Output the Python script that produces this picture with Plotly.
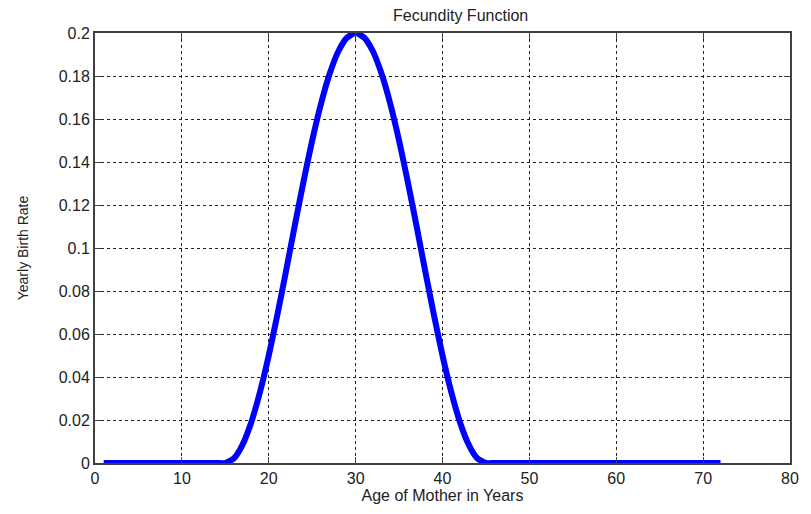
import plotly.graph_objects as go

ages = list(range(1, 73))
# yearly birth rate at each integer age
rates = ([0.0] * 14 +
         [0.0, 0.0022, 0.0087, 0.0191, 0.0331, 0.05, 0.0691, 0.0895, 0.1105, 0.1309,
          0.15, 0.1669, 0.1809, 0.1914, 0.1978, 0.2, 0.1978, 0.1914, 0.1809, 0.1669,
          0.15, 0.1309, 0.1105, 0.0895, 0.0691, 0.05, 0.0331, 0.0191, 0.0087, 0.0022,
          0.0] +
         [0.0] * 27)

x_ticks = [0, 10, 20, 30, 40, 50, 60, 70, 80]
y_ticks = [0, 0.02, 0.04, 0.06, 0.08, 0.1, 0.12, 0.14, 0.16, 0.18, 0.2]
y_labels = ["0", "0.02", "0.04", "0.06", "0.08", "0.1", "0.12", "0.14", "0.16", "0.18", "0.2"]

fig = go.Figure(go.Scatter(x=ages, y=rates, mode="lines",
                           line=dict(color="#0000ff", width=6, shape="spline", smoothing=0.6)))

font = "Liberation Sans, Arial, sans-serif"
axis_common = dict(showgrid=True, gridcolor="#222222", griddash="dot", gridwidth=1,
                   showline=True, linecolor="#404040", linewidth=2, mirror="ticks",
                   ticks="inside", ticklen=6, tickcolor="#404040", zeroline=False,
                   tickfont=dict(family=font, size=16, color="#222222"))

fig.update_layout(
    width=811, height=514,
    margin=dict(l=95, r=14, t=33, b=47),
    paper_bgcolor="white", plot_bgcolor="white",
    showlegend=False,
    title=dict(text="Fecundity Function", x=0.568, xanchor="center", y=0.97, yanchor="middle",
               font=dict(family=font, size=16, color="#222222")),
    xaxis=dict(range=[0, 80], tickvals=x_ticks,
               title=dict(text="Age of Mother in Years", standoff=4,
                          font=dict(family=font, size=16, color="#222222")),
               **axis_common),
    yaxis=dict(range=[0, 0.2], tickvals=y_ticks, ticktext=y_labels,
               title=dict(text="Yearly Birth Rate", standoff=27,
                          font=dict(family=font, size=14, color="#222222")),
               **axis_common),
)

fig.write_html("out.html")
